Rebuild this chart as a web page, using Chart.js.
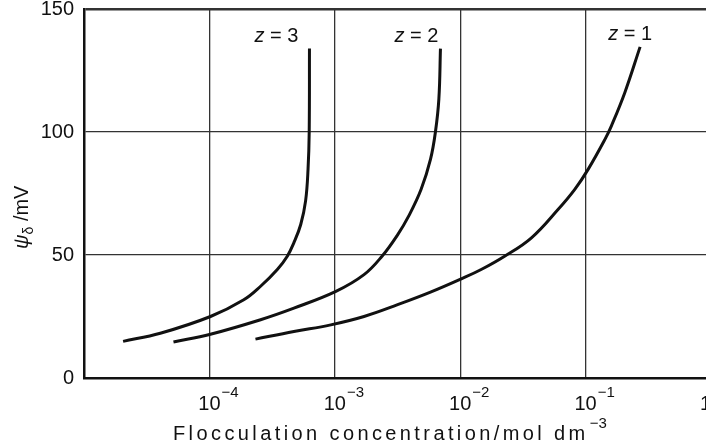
<!DOCTYPE html>
<html>
<head>
<meta charset="utf-8">
<script src="https://cdn.jsdelivr.net/npm/chart.js@4.4.1/dist/chart.umd.min.js"></script>
<style>
  html, body { margin: 0; padding: 0; overflow: hidden; background: #fff; }
  #wrap { width: 760px; height: 447px; }
</style>
</head>
<body>
<div id="wrap"><canvas id="chart" width="760" height="447"></canvas></div>
<script>
// flocculation concentration (mol dm^-3) vs psi_delta (mV)
var z3Conc = [2.05e-5, 4.06e-5, 1.02e-4, 1.88e-4, 2.56e-4, 3.48e-4, 4.18e-4, 4.72e-4, 5.35e-4, 5.85e-4, 6.12e-4, 6.25e-4, 6.28e-4];
var z3Psi  = [14.9, 18.2, 25.0, 31.8, 37.3, 44.1, 49.5, 55.0, 62.4, 72.0, 85.0, 100.0, 133.9];

var z2Conc = [5.17e-5, 1.02e-4, 2.56e-4, 4.72e-4, 1.02e-3, 1.71e-3, 2.38e-3, 3.15e-3, 3.90e-3, 4.88e-3, 5.80e-3, 6.34e-3, 6.76e-3, 6.96e-3];
var z2Psi  = [14.6, 17.8, 23.7, 28.4, 35.2, 42.0, 49.5, 58.0, 66.0, 76.7, 89.0, 99.9, 113.5, 133.9];

var z1Conc = [2.33e-4, 4.72e-4, 9.29e-4, 1.71e-3, 3.17e-3, 5.86e-3, 1.02e-2, 1.47e-2, 2.26e-2, 3.70e-2, 6.05e-2, 8.20e-2, 0.105, 0.143, 0.161, 0.206, 0.272];
var z1Psi  = [15.8, 18.9, 21.6, 25.0, 29.8, 35.0, 40.3, 44.1, 49.5, 57.0, 68.6, 76.7, 84.9, 97.1, 102.6, 116.2, 134.6];

var seriesLabels = ['z = 3', 'z = 2', 'z = 1'];
var xTickValues = [1e-4, 1e-3, 1e-2, 1e-1, 1];
var xTickExps = ['\u22124', '\u22123', '\u22122', '\u22121', '0'];
var yTickValues = [0, 50, 100, 150];

function pts(xs, ys) {
  return xs.map(function (x, i) { return { x: x, y: ys[i] }; });
}

var FONT = '"Liberation Sans", Arial, sans-serif';

var textPlugin = {
  id: 'texts',
  afterDraw: function (chart) {
    var c = chart.ctx;
    var xs = chart.scales.x, ys = chart.scales.y, area = chart.chartArea;
    c.save();
    c.fillStyle = '#111';

    // x tick labels: 10 with raised exponent
    xTickValues.forEach(function (v, i) {
      var px = xs.getPixelForValue(v);
      c.font = '20px ' + FONT;
      c.textAlign = 'center';
      c.textBaseline = 'alphabetic';
      var w = c.measureText('10').width;
      c.fillText('10', px, 410);
      c.font = '15px ' + FONT;
      c.textAlign = 'left';
      c.fillText(xTickExps[i], px + w / 2 + 1, 397);
    });

    // x title with wide letter spacing
    c.font = '20px ' + FONT;
    c.textAlign = 'left';
    c.letterSpacing = '3.4px';
    var tx = area.left + 89;
    var main = 'Flocculation concentration/mol dm';
    c.fillText(main, tx, 440);
    var mw = c.measureText(main).width;
    c.font = '15px ' + FONT;
    c.letterSpacing = '0px';
    c.fillText('\u22123', tx + mw + 1, 428);

    // y title, rotated
    c.save();
    c.translate(28, 249);
    c.rotate(-Math.PI / 2);
    c.font = 'italic 20px ' + FONT;
    c.fillText('\u03c8', 0, 0);
    var pw = c.measureText('\u03c8').width;
    c.font = '14px ' + FONT;
    c.fillText('\u03b4', pw, 5);
    var dw = c.measureText('\u03b4').width;
    c.font = '20px ' + FONT;
    c.fillText(' /mV', pw + dw, 0);
    c.restore();

    // curve labels near top of each curve
    var offs = [-11, -2, 12];
    chart.data.datasets.forEach(function (ds, i) {
      var last = ds.data[ds.data.length - 1];
      var px = xs.getPixelForValue(last.x) + offs[i];
      var py = ys.getPixelForValue(last.y) - 7;
      var rest = seriesLabels[i].slice(1);
      c.font = '20px ' + FONT;
      var rw = c.measureText(rest).width;
      c.textAlign = 'right';
      c.fillText(rest, px, py);
      c.font = 'italic 20px ' + FONT;
      c.fillText('z', px - rw, py);
    });
    c.restore();
  }
};

var lineStyle = { borderColor: '#111', borderWidth: 3, pointRadius: 0, tension: 0.4, fill: false };

new Chart(document.getElementById('chart'), {
  type: 'line',
  data: {
    datasets: [
      Object.assign({ label: seriesLabels[0], data: pts(z3Conc, z3Psi) }, lineStyle),
      Object.assign({ label: seriesLabels[1], data: pts(z2Conc, z2Psi) }, lineStyle),
      Object.assign({ label: seriesLabels[2], data: pts(z1Conc, z1Psi) }, lineStyle)
    ]
  },
  options: {
    responsive: false,
    animation: false,
    events: [],
    layout: { padding: { top: 9, right: 49, left: 0, bottom: 0 } },
    plugins: { legend: { display: false }, tooltip: { enabled: false } },
    scales: {
      x: {
        type: 'logarithmic',
        min: 1e-5,
        max: 1,
        afterBuildTicks: function (s) { s.ticks = xTickValues.map(function (v) { return { value: v }; }); },
        afterFit: function (s) { s.height = 69; s.paddingLeft = 0; s.paddingRight = 0; },
        ticks: { display: false },
        grid: { color: '#333', lineWidth: 1.3, drawTicks: false },
        border: { color: '#111', width: 2.5 }
      },
      y: {
        min: 0,
        max: 150,
        afterBuildTicks: function (s) { s.ticks = yTickValues.map(function (v) { return { value: v }; }); },
        afterFit: function (s) { s.width = 84; s.paddingTop = 0; s.paddingBottom = 0; },
        ticks: { color: '#111', font: { family: FONT, size: 20 }, padding: 10 },
        grid: {
          color: '#333',
          lineWidth: function (c) { return c.tick && c.tick.value === 150 ? 2.5 : 1.3; },
          drawTicks: false
        },
        border: { color: '#111', width: 2.5 }
      }
    }
  },
  plugins: [textPlugin]
});
</script>
</body>
</html>
